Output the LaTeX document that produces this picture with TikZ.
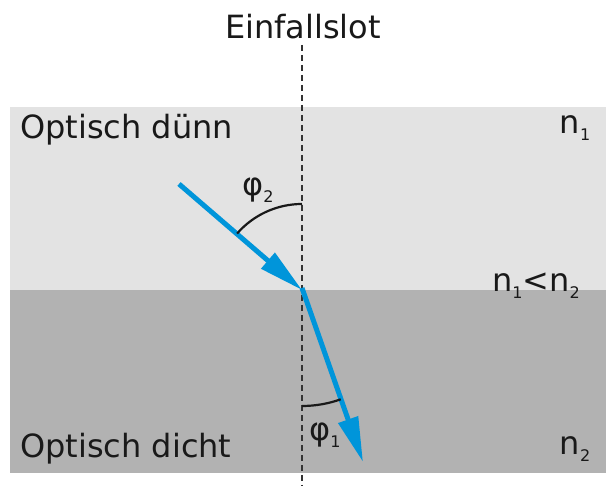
\documentclass[tikz,border=0pt]{standalone}
\usepackage{fontspec}
\setmainfont{DejaVu Sans}
\usetikzlibrary{arrows.meta,calc}
\definecolor{lichtblau}{HTML}{0095DA}
\definecolor{duenn}{HTML}{E3E3E3}
\definecolor{dicht}{HTML}{B2B2B2}
\newcommand{\idx}[1]{\raisebox{-0.38ex}{\fontsize{16}{16}\selectfont #1}}
\tikzset{
  lbl/.style = {inner sep = 0pt, font = \fontsize{32}{38}\selectfont, text = black!90},
  ray/.style = {draw = lichtblau, line width = 5pt, -{Triangle[length = 45pt, width = 20pt]}},
  winkel/.style = {draw = black!90, line width = 2.2pt}
}
\begin{document}
\begin{tikzpicture}[x = 1pt, y = 1pt]
\useasboundingbox[fill = white](0,0) rectangle (606,486);
% layers
\path[fill = duenn](10,379) rectangle (606,196);
\path[fill = dicht](10,196) rectangle (606,13);
% normal
\coordinate(O)at(302,196);
\coordinate(top)at(302,441);
\coordinate(bot)at(302,0);
\path[draw, black!80, line width = 1.3pt, dash pattern = on 6pt off 4pt](top)to(bot);
% rays
\coordinate(in)at(179,302);
\coordinate(out)at(363,24);
\path[ray](in)to(O);
\path[ray]([yshift = 2pt]O)to(out);
% angles
\path[winkel](O)++(90:86) arc (90:139:86);
\path[winkel](O)++(-90:116) arc (-90:-70.5:116);
% labels
\node[lbl](slot)at(303,459){Einfallslot};
\node[lbl, anchor = west](oben)at(20,356){Optisch dünn};
\node[lbl, anchor = west](unten)at(20,37){Optisch dicht};
\node[lbl](n1)at(575,358){n\idx{1}};
\node[lbl](n12)at(536,200){n\idx{1}<n\idx{2}};
\node[lbl](n2)at(575,37){n\idx{2}};
\node[lbl](phi2)at(258,296){φ\idx{2}};
\node[lbl](phi1)at(325,51){φ\idx{1}};
\end{tikzpicture}
\end{document}
